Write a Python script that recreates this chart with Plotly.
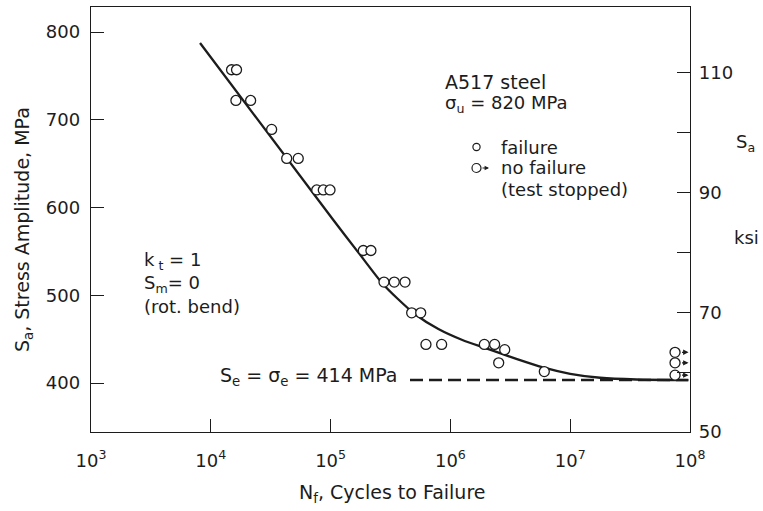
import math
import plotly.graph_objects as go

# ---------------- data ----------------
fail_N = [1.49e4, 1.64e4, 1.62e4, 2.15e4, 3.22e4, 4.30e4, 5.37e4, 7.66e4, 8.69e4, 9.89e4,
          1.875e5, 2.17e5, 2.79e5, 3.40e5, 4.18e5, 4.75e5, 5.65e5, 6.25e5, 8.45e5,
          1.92e6, 2.34e6, 2.84e6, 2.53e6, 6.08e6]
fail_S = [757, 757, 722, 722, 689, 656, 656, 620, 620, 620,
          551, 551, 515, 515, 515, 480, 480, 444, 444,
          444, 444, 438, 423, 413]

runout_N = [7.5e7, 7.5e7, 7.5e7]
runout_S = [435, 423, 409]

curve_N = [8.13e3, 1.054e5, 1.726e5, 2.685e5, 3.63e5, 5.01e5, 7.94e5, 1.259e6, 1.995e6,
           3.55e6, 6.03e6, 1.0e7, 1.778e7, 3.548e7, 9.68e7]
curve_S = [787.5, 585.8, 547.8, 514.0, 496.0, 479.0, 461.5, 449.0, 439.5,
           427.5, 417.5, 410.5, 406.0, 404.0, 403.4]

se_line_N = [4.6e5, 9.68e7]
se_line_S = [403.5, 403.5]

x_tick_exp = [3, 4, 5, 6, 7, 8]
left_ticks = [400, 500, 600, 700, 800]
right_ticks = [50, 60, 70, 80, 90, 100, 110]
right_ticktext = ["50", "", "70", "", "90", "", "110"]

# ---------------- layout geometry ----------------
W, H = 763, 511
L, R, T, B = 91, 73, 7, 79
PW, PH = W - L - R, H - T - B
INK = "#1c1c1c"
FONT = "DejaVu Sans"


def px(x):
    return (x - L) / PW


def py(y):
    return (H - B - y) / PH


fig = go.Figure()

fig.add_trace(go.Scatter(x=se_line_N, y=se_line_S, mode="lines",
                         line=dict(color=INK, width=2.6, dash="13px,6px"),
                         hoverinfo="skip", showlegend=False))
fig.add_trace(go.Scatter(x=curve_N, y=curve_S, mode="lines",
                         line=dict(color=INK, width=2.3, shape="spline", smoothing=0.6),
                         hoverinfo="skip", showlegend=False))
fig.add_trace(go.Scatter(x=fail_N, y=fail_S, mode="markers",
                         marker=dict(symbol="circle", size=10, color="white",
                                     line=dict(color=INK, width=1.3)),
                         showlegend=False))
fig.add_trace(go.Scatter(x=runout_N, y=runout_S, mode="markers",
                         marker=dict(symbol="circle", size=10, color="white",
                                     line=dict(color=INK, width=1.3)),
                         showlegend=False))
# invisible trace to activate the right-hand ksi axis
fig.add_trace(go.Scatter(x=[fail_N[0]], y=[100], yaxis="y2", mode="markers",
                         marker=dict(opacity=0), hoverinfo="skip", showlegend=False))

ann = []
# runout arrows
for n, s in zip(runout_N, runout_S):
    lx = math.log10(n)
    ann.append(dict(x=lx + 13.5 / PW * 5, y=s, xref="x", yref="y",
                    ax=lx + 5.5 / PW * 5, ay=s, axref="x", ayref="y",
                    showarrow=True, arrowhead=2, arrowsize=0.9, arrowwidth=1.2,
                    arrowcolor=INK, text=""))


def txt(t, x, y, xa="left", size=18, **kw):
    d = dict(text=t, x=px(x), y=py(y), xref="paper", yref="paper",
             xanchor=xa, yanchor="middle", showarrow=False,
             font=dict(family=FONT, size=size, color=INK))
    d.update(kw)
    ann.append(d)


txt("A517 steel", 443, 82, size=19)
txt("σ<sub>u</sub> = 820 MPa", 443, 104, size=18)
txt("failure", 499, 147, size=18)
txt("no failure", 499, 168, size=18)
txt("(test stopped)", 499, 189, size=18)
txt("k<sub> t</sub> = 1", 142, 261, size=18)
txt("S<sub>m</sub>= 0", 142, 284, size=18)
txt("(rot. bend)", 142, 306, size=18)
txt("S<sub>e</sub> = σ<sub>e</sub> = 414 MPa", 399, 376, xa="right", size=19)
txt("S<sub>a</sub>", 734, 143, size=18)
txt("ksi", 746, 237, xa="center", size=18)
txt("N<sub>f</sub>, Cycles to Failure", 392, 493, xa="center", size=19)
txt("S<sub>a</sub>, Stress Amplitude, MPa", 24, 230, xa="center", size=19, textangle=-90)

# legend arrow for "no failure"
ann.append(dict(x=px(489), y=py(168), ax=-8, ay=0, xref="paper", yref="paper",
                axref="pixel", ayref="pixel", showarrow=True, arrowhead=2, arrowsize=0.8,
                arrowwidth=1.1, arrowcolor=INK, text=""))

shapes = [
    dict(type="circle", xref="paper", yref="paper", xsizemode="pixel", ysizemode="pixel",
         xanchor=px(476.5), yanchor=py(147), x0=-3.6, x1=3.6, y0=-3.6, y1=3.6,
         line=dict(color=INK, width=1.2), fillcolor="white"),
    dict(type="circle", xref="paper", yref="paper", xsizemode="pixel", ysizemode="pixel",
         xanchor=px(476.5), yanchor=py(168), x0=-4.5, x1=4.5, y0=-4.5, y1=4.5,
         line=dict(color=INK, width=1.2), fillcolor="white"),
]

fig.update_layout(
    width=W, height=H, margin=dict(l=L, r=R, t=T, b=B, autoexpand=False),
    paper_bgcolor="white", plot_bgcolor="white", showlegend=False,
    font=dict(family=FONT, size=18, color=INK),
    annotations=ann, shapes=shapes,
    xaxis=dict(type="log", range=[3, 8], showgrid=False, zeroline=False,
               showline=True, linecolor=INK, linewidth=1.4, mirror=True,
               ticks="inside", ticklen=13, tickwidth=1.3, tickcolor=INK,
               tickvals=[10 ** e for e in x_tick_exp],
               ticktext=["10<sup>%d</sup>" % e for e in x_tick_exp],
               tickfont=dict(family=FONT, size=18, color=INK),
               ticklabelstandoff=12),
    yaxis=dict(range=[344.2, 828.5], showgrid=False, zeroline=False,
               showline=True, linecolor=INK, linewidth=1.4,
               ticks="inside", ticklen=13, tickwidth=1.3, tickcolor=INK,
               tickvals=left_ticks, tickfont=dict(family=FONT, size=18, color=INK),
               ticklabelstandoff=6),
    yaxis2=dict(range=[50, 121], overlaying="y", side="right", showgrid=False,
                zeroline=False, showline=True, linecolor=INK, linewidth=1.4,
                ticks="inside", ticklen=13, tickwidth=1.3, tickcolor=INK,
                tickvals=right_ticks, ticktext=right_ticktext,
                tickfont=dict(family=FONT, size=18, color=INK),
                ticklabelstandoff=4),
)

fig.write_html("out.html", config={"displayModeBar": False},
               post_script="document.body.style.margin='0px';document.body.style.padding='0px';")
